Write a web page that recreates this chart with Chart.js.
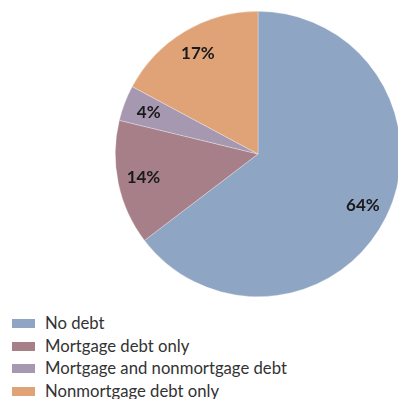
<!DOCTYPE html>
<html>
<head>
<meta charset="utf-8">
<script src="https://cdn.jsdelivr.net/npm/chart.js@4/dist/chart.umd.min.js"></script>
<style>
  html, body { margin: 0; padding: 0; background: #fff; overflow: hidden; }
  #wrap { position: absolute; left: 0; top: 0; width: 404px; height: 300px; }
  #legend { position: absolute; left: 12px; top: 313px; font-family: Lato, "DejaVu Sans", sans-serif; font-size: 16.7px; color: #333; }
  .item { height: 22.5px; line-height: 20px; white-space: nowrap; }
  .box { display: inline-block; width: 23px; height: 9px; margin-right: 10px; vertical-align: 1px; }
</style>
</head>
<body>
<div id="wrap"><canvas id="pie"></canvas></div>
<div id="legend"></div>
<script>
const categories = ["No debt", "Mortgage debt only", "Mortgage and nonmortgage debt", "Nonmortgage debt only"];
const shares = [64, 14, 4, 17];
const colors = ["#8fa5c4", "#a67f88", "#a698b0", "#e0a277"];

// percent labels inside the slices
const sliceLabels = {
  id: "sliceLabels",
  afterDatasetsDraw(chart) {
    const ctx = chart.ctx;
    const meta = chart.getDatasetMeta(0);
    ctx.save();
    ctx.font = "bold 17px Lato, 'DejaVu Sans', sans-serif";
    ctx.fillStyle = "#1a1a1a";
    ctx.textAlign = "center";
    ctx.textBaseline = "middle";
    meta.data.forEach((arc, i) => {
      const p = arc.getProps(["x", "y", "startAngle", "endAngle", "outerRadius"], true);
      const mid = (p.startAngle + p.endAngle) / 2;
      const r = p.outerRadius * 0.82;
      ctx.fillText(shares[i] + "%", p.x + Math.cos(mid) * r, p.y + Math.sin(mid) * r);
    });
    ctx.restore();
  }
};

const ctx = document.getElementById("pie").getContext("2d");
const chart = new Chart(ctx, {
  type: "pie",
  data: {
    labels: categories,
    datasets: [{ data: shares, backgroundColor: colors, borderColor: "rgba(255,255,255,0.5)", borderWidth: 0.6 }]
  },
  options: {
    responsive: true,
    maintainAspectRatio: false,
    animation: false,
    layout: { padding: { left: 115, right: 3, top: 11, bottom: 3 } },
    plugins: { legend: { display: false }, tooltip: { enabled: false } }
  },
  plugins: [sliceLabels]
});

// legend built from the same arrays
const legend = document.getElementById("legend");
categories.forEach((c, i) => {
  legend.innerHTML += `<div class="item"><span class="box" style="background:${colors[i]}"></span>${c}</div>`;
});
</script>
</body>
</html>
